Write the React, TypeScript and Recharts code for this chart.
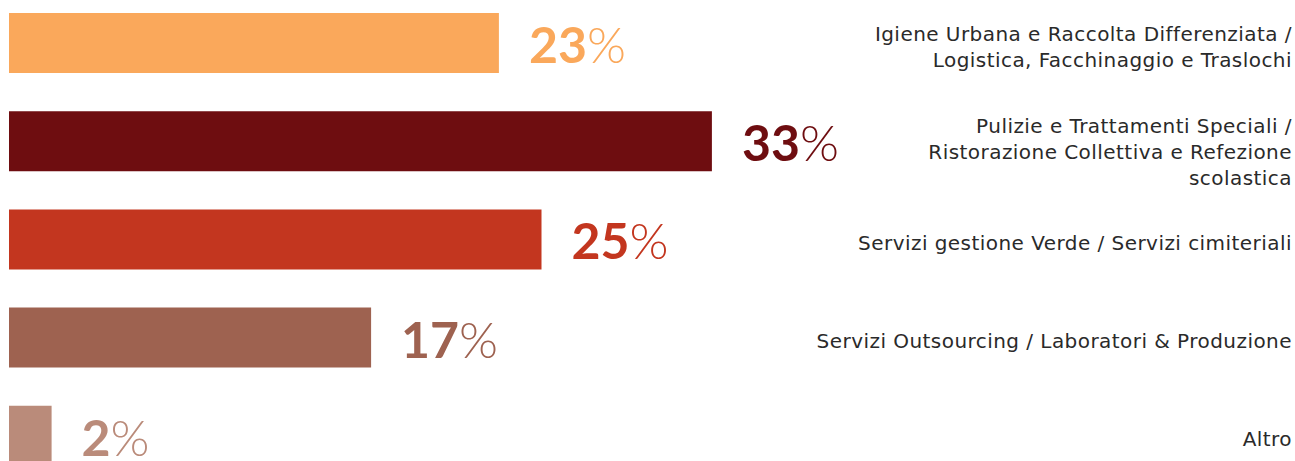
import { BarChart, Bar, XAxis, YAxis, Cell, LabelList } from 'recharts'

const categories = [
  'Igiene Urbana e Raccolta Differenziata /\nLogistica, Facchinaggio e Traslochi',
  'Pulizie e Trattamenti Speciali /\nRistorazione Collettiva e Refezione\nscolastica',
  'Servizi gestione Verde / Servizi cimiteriali',
  'Servizi Outsourcing / Laboratori & Produzione',
  'Altro',
]
const shares = [23, 33, 25, 17, 2]
const colors = ['#FAA85B', '#6E0D10', '#C3361F', '#9E6250', '#BA8B7A']

const data = categories.map((name, i) => ({ name, value: shares[i], color: colors[i] }))

const LINE_H = 26
// baseline of the first line relative to the bar centre, by number of lines
const FIRST_LINE_OFFSET: Record<number, number> = { 1: 10, 2: -2, 3: -8 }

function CategoryTick(props: any) {
  const { x, y, payload } = props
  const lines: string[] = String(payload.value).split('\n')
  const first = FIRST_LINE_OFFSET[lines.length] ?? 10
  const tx = x + 13
  return (
    <text
      x={tx}
      y={y + first}
      textAnchor="end"
      fill="#2a2a2a"
      fontFamily="DejaVu Sans"
      fontSize={20}
      letterSpacing={0.45}
    >
      {lines.map((l, i) => (
        <tspan key={i} x={tx} dy={i === 0 ? 0 : LINE_H}>
          {l}
        </tspan>
      ))}
    </text>
  )
}

function PercentLabel(props: any) {
  const { x, y, width, height, index } = props
  return (
    <text
      x={x + width + 30}
      y={y + height / 2 + 20}
      fill={colors[index]}
      fontFamily="Lato"
      fontSize={50}
    >
      <tspan fontWeight={700}>{shares[index]}</tspan>
      <tspan fontWeight={300}>%</tspan>
    </text>
  )
}

export default function App() {
  return (
    <div
      style={{
        position: 'fixed',
        left: 0,
        top: 0,
        width: 1295,
        height: 461,
        overflow: 'hidden',
        background: '#fff',
      }}
    >
      <div style={{ position: 'absolute', left: 0, top: -6 }}>
        <BarChart
          width={1295}
          height={491}
          data={data}
          layout="vertical"
          margin={{ top: 0, right: 8, bottom: 0, left: 9 }}
        >
          <XAxis type="number" domain={[0, 60]} hide />
          <YAxis
            type="category"
            dataKey="name"
            orientation="right"
            mirror
            width={1}
            axisLine={false}
            tickLine={false}
            interval={0}
            tick={<CategoryTick />}
          />
          <Bar dataKey="value" barSize={60} isAnimationActive={false}>
            {data.map((d, i) => (
              <Cell key={i} fill={d.color} />
            ))}
            <LabelList dataKey="value" content={<PercentLabel />} />
          </Bar>
        </BarChart>
      </div>
    </div>
  )
}
